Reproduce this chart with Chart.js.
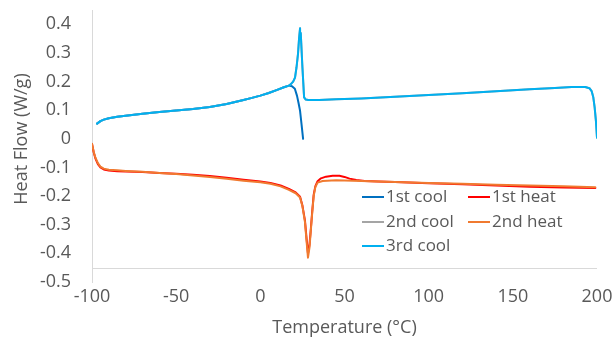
<!DOCTYPE html>
<html>
<head>
<meta charset="utf-8">
<script src="https://cdn.jsdelivr.net/npm/chart.js@4.4.1/dist/chart.umd.min.js"></script>
<style>
  html, body { margin: 0; padding: 0; background: #ffffff; }
  #wrap { position: relative; width: 616px; height: 339px; }
</style>
</head>
<body>
<div id="wrap"><canvas id="c"></canvas></div>
<script>
// ---------------- DATA ----------------
const seriesNames = ["1st cool", "1st heat", "2nd cool", "2nd heat", "3rd cool"];

// shared low-temperature cooling baseline
const coolBaseTemp = [17, 14, 10, 5, 0, -5, -10, -20, -30, -40, -50, -60, -70, -80, -85, -90, -93, -95, -97];
const coolBaseFlow = [0.186, 0.180, 0.171, 0.160, 0.151, 0.143, 0.136, 0.122, 0.111, 0.104, 0.099, 0.094, 0.088, 0.081, 0.077, 0.072, 0.067, 0.062, 0.053];

// 1st cool (starts near 25 °C)
const cool1Temp = [25.4, 24.5, 23.6, 22.7, 21.8, 20.5, 18.8].concat(coolBaseTemp);
const cool1Flow = [0.0, 0.05, 0.098, 0.125, 0.15, 0.175, 0.184].concat(coolBaseFlow);

// 3rd cool (starts at 200 °C)
const cool3Temp = [200, 199.4, 198.6, 197.8, 196.8, 195.5, 193, 185, 175, 160, 140, 120, 100, 80, 60, 45, 35, 28.5, 27, 26, 25, 24, 23.6, 23, 22.4, 21.5, 20.6, 19.5, 18].concat(coolBaseTemp);
const cool3Flow = [0.004, 0.06, 0.11, 0.145, 0.167, 0.177, 0.181, 0.181, 0.178, 0.173, 0.166, 0.159, 0.153, 0.147, 0.141, 0.138, 0.136, 0.136, 0.137, 0.145, 0.25, 0.37, 0.386, 0.35, 0.298, 0.25, 0.214, 0.2, 0.19].concat(coolBaseFlow);

// 2nd cool (hidden beneath 3rd cool)
const cool2Temp = cool3Temp.slice();
const cool2Flow = cool3Flow.slice();

// 1st heat
const heat1Temp = [-100, -99, -98, -96.5, -95, -93, -90, -85, -80, -70, -60, -50, -40, -30, -20, -10, 0, 6, 12, 17, 21, 23.6, 25, 26.5, 27.5, 28.3, 29.2, 30, 30.8, 31.7, 32.7, 34, 36, 39, 43, 47, 50, 53, 57, 62, 70, 80, 100, 120, 140, 160, 180, 199];
const heat1Flow = [-0.018, -0.047, -0.068, -0.088, -0.100, -0.107, -0.111, -0.113, -0.114, -0.116, -0.119, -0.122, -0.125, -0.130, -0.136, -0.143, -0.149, -0.154, -0.163, -0.175, -0.187, -0.202, -0.233, -0.285, -0.35, -0.40, -0.37, -0.315, -0.255, -0.195, -0.165, -0.148, -0.138, -0.132, -0.129, -0.129, -0.133, -0.139, -0.144, -0.147, -0.149, -0.151, -0.155, -0.159, -0.163, -0.167, -0.170, -0.172];

// 2nd heat
const heat2Temp = [-100, -99, -98, -96.5, -95, -93, -90, -85, -80, -70, -60, -50, -40, -30, -20, -10, 0, 6, 12, 17, 21, 23.6, 25, 26.5, 27.5, 28.3, 29.2, 30, 30.8, 31.7, 32.7, 34, 37, 45, 55, 65, 80, 100, 120, 140, 160, 180, 199];
const heat2Flow = [-0.017, -0.045, -0.065, -0.085, -0.097, -0.104, -0.108, -0.110, -0.112, -0.115, -0.119, -0.123, -0.128, -0.133, -0.139, -0.146, -0.152, -0.157, -0.166, -0.178, -0.190, -0.205, -0.235, -0.29, -0.36, -0.415, -0.38, -0.32, -0.26, -0.2, -0.168, -0.153, -0.147, -0.145, -0.146, -0.148, -0.151, -0.154, -0.157, -0.160, -0.163, -0.166, -0.169];

// axis settings
const xMin = -100, xMax = 200, xStep = 50;
const yMin = -0.5, yMax = 0.45, xAxisCross = -0.45;
const yTickValues = [-0.5, -0.4, -0.3, -0.2, -0.1, 0, 0.1, 0.2, 0.3, 0.4];
const yTickLabels = ["-0.5", "-0.4", "-0.3", "-0.2", "-0.1", "0", "0.1", "0.2", "0.3", "0.4"];
const xTitle = "Temperature (°C)";
const yTitle = "Heat Flow (W/g)";

// ---------------- STYLE ----------------
const colors = ["#0070C0", "#FF0000", "#A5A5A5", "#F07A30", "#00B0F0"];
const drawOrder = [4, 2, 3, 1, 0];
const textColor = "#595959";
const axisColor = "#D9D9D9";
const fontFamily = "'Open Sans', 'DejaVu Sans', sans-serif";
const tickFontSize = 18;
const legendFontSize = 17;

function pts(t, v) { return t.map((x, i) => ({ x: x, y: v[i] })); }
const temps = [cool1Temp, heat1Temp, cool2Temp, heat2Temp, cool3Temp];
const flows = [cool1Flow, heat1Flow, cool2Flow, heat2Flow, cool3Flow];

const datasets = seriesNames.map((name, i) => ({
  label: name,
  data: pts(temps[i], flows[i]),
  borderColor: colors[i],
  backgroundColor: colors[i],
  borderWidth: 2,
  pointRadius: 0,
  showLine: true,
  tension: 0,
  order: drawOrder[i],
  borderJoinStyle: 'round',
  borderCapStyle: 'round'
}));

const extras = {
  id: 'extras',
  afterDraw(chart) {
    const ctx = chart.ctx;
    const area = chart.chartArea;
    const ys = chart.scales.y;
    ctx.save();
    // horizontal axis line
    const yc = Math.round(ys.getPixelForValue(xAxisCross)) + 0.5;
    ctx.strokeStyle = axisColor;
    ctx.lineWidth = 1;
    ctx.beginPath();
    ctx.moveTo(area.left, yc);
    ctx.lineTo(area.right, yc);
    ctx.stroke();

    // axis titles
    ctx.fillStyle = textColor;
    ctx.font = tickFontSize + "px " + fontFamily;
    ctx.textAlign = 'center';
    ctx.textBaseline = 'middle';
    ctx.fillText(xTitle, (area.left + area.right) / 2, 328);
    ctx.save();
    ctx.translate(22, 139);
    ctx.rotate(-Math.PI / 2);
    ctx.fillText(yTitle, 0, 0);
    ctx.restore();

    // legend (2 columns, row-wise)
    ctx.font = legendFontSize + "px " + fontFamily;
    const colX = [area.left + 270, area.left + 376];
    const rowY = [197, 222, 246];
    ctx.textAlign = 'left';
    chart.data.datasets.forEach((ds, i) => {
      const cx = colX[i % 2];
      const cy = rowY[Math.floor(i / 2)];
      ctx.strokeStyle = ds.borderColor;
      ctx.lineWidth = 2;
      ctx.beginPath();
      ctx.moveTo(cx, cy);
      ctx.lineTo(cx + 22, cy);
      ctx.stroke();
      ctx.fillStyle = textColor;
      ctx.fillText(ds.label, cx + 24, cy);
    });
    ctx.restore();
  }
};

new Chart(document.getElementById('c'), {
  type: 'scatter',
  data: { datasets: datasets },
  options: {
    responsive: true,
    maintainAspectRatio: false,
    animation: false,
    layout: { padding: { top: 10, right: 19, left: 0, bottom: 0 } },
    plugins: { legend: { display: false }, tooltip: { enabled: false } },
    scales: {
      x: {
        type: 'linear',
        min: xMin, max: xMax,
        ticks: { stepSize: xStep, color: textColor, font: { family: fontFamily, size: tickFontSize }, padding: 4, maxRotation: 0 },
        grid: { display: false, drawTicks: false },
        border: { display: false },
        afterFit(s) { s.height = 57; s.paddingLeft = 0; s.paddingRight = 0; }
      },
      y: {
        type: 'linear',
        min: yMin, max: yMax,
        afterBuildTicks(s) { s.ticks = yTickValues.map(v => ({ value: v })); },
        ticks: {
          color: textColor, font: { family: fontFamily, size: tickFontSize }, padding: 21,
          callback: (v) => yTickLabels[yTickValues.findIndex(t => Math.abs(t - v) < 1e-9)]
        },
        grid: { display: false, drawTicks: false },
        border: { display: true, color: axisColor, width: 1 },
        afterFit(s) { s.width = 92; s.paddingTop = 0; s.paddingBottom = 0; }
      }
    }
  },
  plugins: [extras]
});
</script>
</body>
</html>
